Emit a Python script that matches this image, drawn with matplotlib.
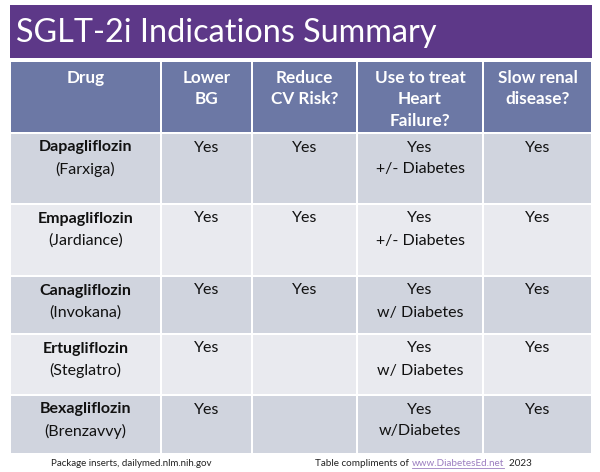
import matplotlib
matplotlib.use("Agg")
import matplotlib.pyplot as plt
from matplotlib.patches import Rectangle

title = "SGLT-2i Indications Summary"
headers = ["Drug", "Lower\nBG", "Reduce\nCV Risk?", "Use to treat\nHeart\nFailure?", "Slow renal\ndisease?"]
drugs = ["Dapagliflozin", "Empagliflozin", "Canagliflozin", "Ertugliflozin", "Bexagliflozin"]
brands = ["(Farxiga)", "(Jardiance)", "(Invokana)", "(Steglatro)", "(Brenzavvy)"]
lower_bg = ["Yes", "Yes", "Yes", "Yes", "Yes"]
reduce_cv = ["Yes", "Yes", "Yes", "", ""]
heart_failure = ["Yes\n+/- Diabetes", "Yes\n+/- Diabetes", "Yes\nw/ Diabetes", "Yes\nw/ Diabetes", "Yes\nw/Diabetes"]
slow_renal = ["Yes", "Yes", "Yes", "Yes", "Yes"]
footer_left = "Package inserts, dailymed.nlm.nih.gov"
footer_right_pre = "Table compliments of "
footer_link = "www.DiabetesEd.net"
footer_year = "  2023"

# layout (pixels)
col_edges = [10, 161, 252, 357, 483, 592]
row_edges = [(62, 132), (134, 203), (205, 275), (277, 333), (335, 394), (396, 453)]
FONT = "Lato"

fig = plt.figure(figsize=(6.0, 4.72), dpi=100)
ax = fig.add_axes([0, 0, 1, 1])
ax.set_xlim(0, 600)
ax.set_ylim(472, 0)
ax.axis("off")
fig.patch.set_facecolor("white")

# title bar
ax.add_patch(Rectangle((10, 5), 582, 53, facecolor="#5D3888", edgecolor="none"))
ax.text(16, 33, title, color="white", fontsize=23.3, family=FONT, va="center", ha="left")

# header
hy0, hy1 = row_edges[0]
for i in range(5):
    x0, x1 = col_edges[i], col_edges[i + 1]
    ax.add_patch(Rectangle((x0 + 1, hy0), x1 - x0 - 2, hy1 - hy0, facecolor="#6C78A5", edgecolor="none"))
    lines = headers[i].split("\n")
    for k, ln in enumerate(lines):
        ax.text((x0 + x1) / 2, hy0 + 16 + 21.5 * k, ln, color="white", fontsize=12.3, fontweight="bold",
                family=FONT, ha="center", va="center")

columns = [lower_bg, reduce_cv, heart_failure, slow_renal]
row_colors = ["#D0D4DE", "#E9EAEF"]
for r in range(5):
    y0, y1 = row_edges[r + 1]
    for i in range(5):
        x0, x1 = col_edges[i], col_edges[i + 1]
        ax.add_patch(Rectangle((x0 + 1, y0), x1 - x0 - 2, y1 - y0, facecolor=row_colors[r % 2], edgecolor="none"))
    cx = (col_edges[0] + col_edges[1]) / 2
    ax.text(cx, y0 + 13.5, drugs[r], fontsize=11.5, fontweight="bold", family=FONT, ha="center", va="center", color="#111111")
    ax.text(cx, y0 + 35.5, brands[r], fontsize=11.5, family=FONT, ha="center", va="center", color="#111111")
    for c, col in enumerate(columns):
        x0, x1 = col_edges[c + 1], col_edges[c + 2]
        if col[r]:
            for k, ln in enumerate(col[r].split("\n")):
                ax.text((x0 + x1) / 2, y0 + 13.5 + 22 * k, ln, fontsize=11.5, family=FONT, ha="center",
                        va="center", color="#111111")

# footer
ax.text(131, 463, footer_left, fontsize=7, family=FONT, ha="center", va="center", color="#222222")
t1 = ax.text(315, 463, footer_right_pre, fontsize=7.1, family=FONT, ha="left", va="center", color="#222222")
fig.canvas.draw()
r = fig.canvas.get_renderer()
bb = t1.get_window_extent(r).transformed(ax.transData.inverted())
xl = max(bb.x0, bb.x1)
t2 = ax.text(xl, 463, footer_link, fontsize=7.1, family=FONT, ha="left", va="center", color="#9C7FC0")
bb2 = t2.get_window_extent(r).transformed(ax.transData.inverted())
x2a, x2b = min(bb2.x0, bb2.x1), max(bb2.x0, bb2.x1)
ax.plot([x2a, x2b], [468, 468], color="#9C7FC0", lw=0.6)
ax.text(x2b, 463, footer_year, fontsize=7.1, family=FONT, ha="left", va="center", color="#222222")

fig.savefig("out.png", dpi=100, facecolor="white")
